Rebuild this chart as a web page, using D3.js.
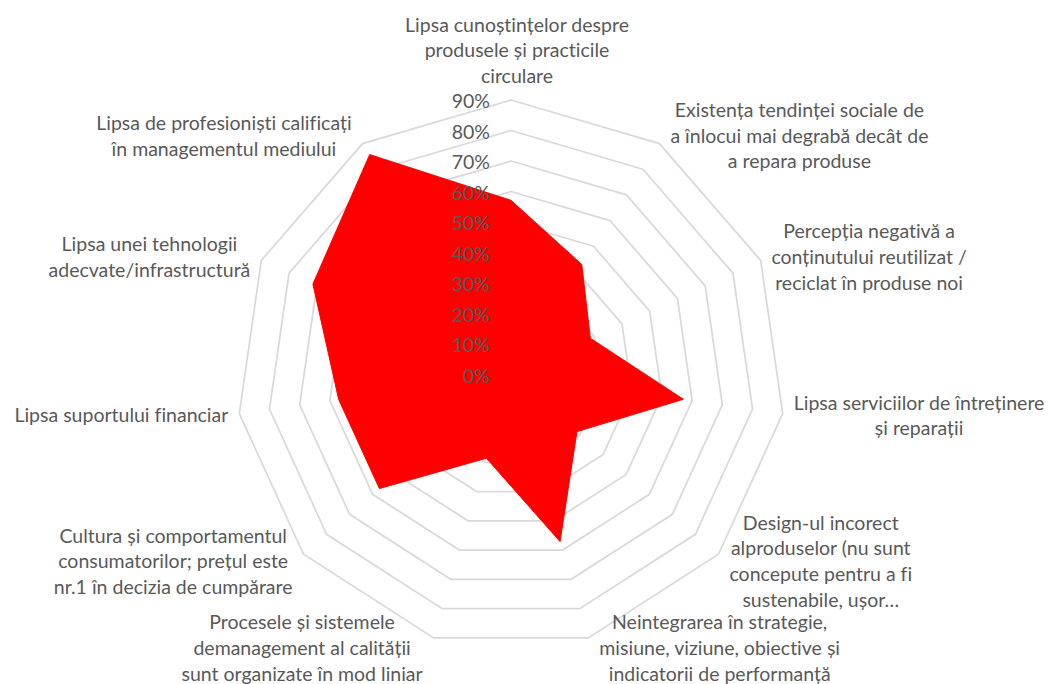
<!DOCTYPE html>
<html>
<head>
<meta charset="utf-8">
<script src="https://cdn.jsdelivr.net/npm/d3@7"></script>
<style>
  html, body { margin: 0; padding: 0; background: #fff; }
  svg { display: block; }
  text { font-family: Lato, "Open Sans", sans-serif; fill: #595959; font-variant-ligatures: none; }
</style>
</head>
<body>
<div id="chart"></div>
<script>
// category labels, split in lines the way they wrap in the chart
var categories = [
  ["Lipsa cunoștințelor despre", "produsele și practicile", "circulare"],
  ["Existența tendinței sociale de", "a înlocui mai degrabă decât de", "a repara produse"],
  ["Percepția negativă a", "conținutului reutilizat /", "reciclat în produse noi"],
  ["Lipsa serviciilor de întreținere", "și reparații"],
  ["Design-ul incorect", "alproduselor (nu sunt", "concepute pentru a fi", "sustenabile, ușor…"],
  ["Neintegrarea în strategie,", "misiune, viziune, obiective și", "indicatorii de performanță"],
  ["Procesele și sistemele", "demanagement al calității", "sunt organizate în mod liniar"],
  ["Cultura și comportamentul", "consumatorilor; prețul este", "nr.1 în decizia de cumpărare"],
  ["Lipsa suportului financiar"],
  ["Lipsa unei tehnologii", "adecvate/infrastructură"],
  ["Lipsa de profesioniști calificați", "în managementul mediului"]
];
var values = [0.571, 0.429, 0.286, 0.571, 0.286, 0.571, 0.286, 0.571, 0.571, 0.714, 0.857];
var ticks = [0, 0.1, 0.2, 0.3, 0.4, 0.5, 0.6, 0.7, 0.8, 0.9];
var tickLabels = ["0%", "10%", "20%", "30%", "40%", "50%", "60%", "70%", "80%", "90%"];

var width = 1054, height = 684;
var cx = 511, cy = 374.5, radius = 274.5;
var fontSize = 19.5, lineH = 25.7;
var n = categories.length;

var svg = d3.select("#chart").append("svg")
  .attr("width", width)
  .attr("height", height);

var g = svg.append("g")
  .attr("transform", "translate(" + cx + "," + cy + ")");

var rScale = d3.scaleLinear().domain([0, 0.9]).range([0, radius]);
var angle = d3.scaleLinear().domain([0, n]).range([0, 2 * Math.PI]);

var ring = d3.lineRadial()
  .angle(function (d, i) { return angle(i); })
  .radius(function (d) { return rScale(d); })
  .curve(d3.curveLinearClosed);

// grid rings
g.append("g").attr("class", "grid")
  .selectAll("path")
  .data(ticks.slice(1))
  .enter()
  .append("path")
  .attr("d", function (t) { return ring(d3.range(n).map(function () { return t; })); })
  .attr("fill", "none")
  .attr("stroke", "#d9d9d9")
  .attr("stroke-width", 1.75);

// series area
g.append("path")
  .datum(values)
  .attr("d", ring)
  .attr("fill", "#ff0000")
  .attr("stroke", "#ff0000")
  .attr("stroke-width", 1);

// tick labels along the top axis
g.append("g").attr("class", "ticks")
  .selectAll("text")
  .data(ticks)
  .enter()
  .append("text")
  .attr("x", -21)
  .attr("y", function (t) { return -rScale(t) + 8; })
  .attr("text-anchor", "end")
  .style("font-size", fontSize + "px")
  .text(function (t, i) { return tickLabels[i]; });

// category labels: lines centred inside a block, block placed beside the outer vertex
g.append("g").attr("class", "labels")
  .selectAll("text")
  .data(categories)
  .enter()
  .append("text")
  .attr("text-anchor", "middle")
  .style("font-size", fontSize + "px")
  .each(function (lines, i) {
    var a = angle(i);
    var s = Math.sin(a), c = Math.cos(a);
    var vx = radius * s, vy = -radius * c;
    var t = d3.select(this);
    var spans = lines.map(function (line) {
      return t.append("tspan").text(line);
    });
    var maxW = d3.max(spans, function (sp) { return sp.node().getComputedTextLength(); });
    var x, yc;
    if (Math.abs(s) < 0.1) {
      x = vx + 6;
      yc = vy - 17 - (lines.length - 1) / 2 * lineH - 7.5;
    } else {
      x = vx + (s > 0 ? 1 : -1) * (11 + maxW / 2);
      yc = vy - 10 * c;
    }
    spans.forEach(function (sp, k) {
      sp.attr("x", x)
        .attr("y", yc + (k - (lines.length - 1) / 2) * lineH + 7.5);
    });
  });
</script>
</body>
</html>
